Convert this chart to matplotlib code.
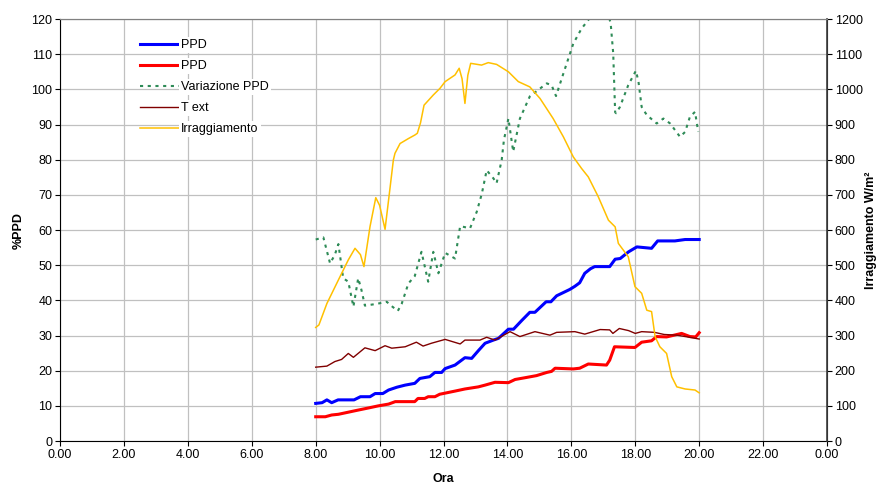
import matplotlib
matplotlib.use('Agg')
import matplotlib.pyplot as plt
from matplotlib.ticker import MultipleLocator, FuncFormatter

plt.rcParams['font.family'] = ['Liberation Sans', 'DejaVu Sans']
plt.rcParams['font.size'] = 9

# PPD (blu)
ppd_blu_t = [8.0, 8.2, 8.35, 8.5, 8.7, 9.2, 9.4, 9.7, 9.86, 10.1, 10.28, 10.54, 10.8, 11.1, 11.26,
             11.57, 11.73, 11.94, 12.05, 12.36, 12.67, 12.88, 13.1, 13.3, 13.56, 13.72, 14.03, 14.19,
             14.45, 14.7, 14.86, 15.21, 15.36, 15.54, 15.95, 16.11, 16.26, 16.42, 16.6, 16.73, 17.2,
             17.37, 17.53, 17.79, 18.05, 18.51, 18.7, 19.24, 19.56, 20.0]
ppd_blu = [10.7, 10.9, 11.7, 10.9, 11.7, 11.7, 12.6, 12.6, 13.5, 13.5, 14.5, 15.3, 15.9, 16.4, 17.8,
           18.3, 19.5, 19.5, 20.6, 21.6, 23.7, 23.5, 25.8, 27.8, 28.7, 29.2, 31.8, 31.8,
           34.3, 36.6, 36.6, 39.6, 39.6, 41.3, 43.1, 44.0, 45.0, 47.7, 49.0, 49.6, 49.6,
           51.7, 51.9, 53.8, 55.2, 54.8, 56.9, 56.9, 57.3, 57.3]

# PPD (rosso)
ppd_rosso_t = [8.0, 8.3, 8.5, 8.71, 9.02, 9.33, 9.65, 9.96, 10.28, 10.49, 11.1, 11.2, 11.41, 11.52,
               11.73, 11.88, 12.36, 12.67, 13.09, 13.3, 13.61, 14.03, 14.24, 14.55, 14.91, 15.23,
               15.38, 15.49, 16.06, 16.26, 16.53, 17.1, 17.2, 17.35, 17.99, 18.2, 18.51, 18.67,
               18.98, 19.45, 19.71, 19.89, 20.0]
ppd_rosso = [6.9, 6.9, 7.4, 7.6, 8.2, 8.8, 9.4, 10.0, 10.5, 11.2, 11.2, 12.1, 12.1, 12.6,
             12.6, 13.3, 14.2, 14.8, 15.4, 15.9, 16.7, 16.6, 17.5, 18.0, 18.6, 19.5,
             19.8, 20.7, 20.5, 20.7, 21.9, 21.6, 23.0, 26.8, 26.6, 28.1, 28.5, 29.7,
             29.6, 30.6, 29.7, 29.6, 30.8]

# Variazione PPD
var_ppd_t = [8.0, 8.24, 8.45, 8.6, 8.71, 8.78, 8.86, 9.02, 9.18, 9.33, 9.43, 9.54, 9.91, 10.22,
             10.4, 10.57, 10.69, 10.9, 11.1, 11.31, 11.52, 11.68, 11.84, 12.05, 12.36, 12.52,
             12.83, 13.04, 13.2, 13.35, 13.56, 13.66, 13.82, 13.89, 14.03, 14.18, 14.39, 14.7,
             15.23, 15.38, 15.52, 15.75, 16.06, 16.32, 16.53, 16.8, 17.1, 17.23, 17.31, 17.37,
             17.4, 17.52, 17.78, 18.02, 18.1, 18.2, 18.36, 18.67, 18.88, 19.09, 19.4, 19.56,
             19.71, 19.87, 19.97]
var_ppd = [57.3, 57.9, 50.5, 53.0, 56.0, 51.5, 46.3, 45.3, 38.2, 46.3, 43.0, 38.5, 39.0, 39.6,
           38.2, 37.0, 39.0, 44.8, 46.9, 53.8, 45.3, 53.8, 47.7, 53.5, 51.9, 61.1,
           60.5, 65.2, 70.4, 77.0, 74.7, 73.3, 79.9, 85.6, 91.7, 82.3, 91.7, 98.0,
           101.7, 101.2, 98.1, 104.5, 113.0, 117.3, 119.7, 124.0, 123.0, 118.8, 110.2, 93.5,
           93.2, 95.0, 101.2, 105.3, 102.2, 95.0, 92.7, 90.3, 91.7, 90.3, 86.5, 87.9,
           92.2, 93.6, 87.9]

# T ext
t_ext_t = [8.0, 8.35, 8.6, 8.81, 9.02, 9.18, 9.54, 9.86, 10.17, 10.38, 10.8, 11.15, 11.36, 11.62,
           12.05, 12.52, 12.67, 13.14, 13.35, 13.61, 14.08, 14.39, 14.86, 15.33, 15.54, 16.11,
           16.42, 16.9, 17.2, 17.3, 17.5, 17.79, 18.0, 18.2, 18.6, 18.9, 19.3, 19.7, 20.0]
t_ext = [21.0, 21.3, 22.6, 23.2, 24.9, 23.8, 26.5, 25.7, 27.1, 26.4, 26.8, 28.1, 27.0, 27.8,
         28.9, 27.6, 28.7, 28.7, 29.5, 28.7, 31.1, 29.7, 31.1, 30.1, 30.9, 31.1,
         30.4, 31.7, 31.6, 30.6, 32.0, 31.4, 30.6, 31.1, 30.9, 30.3, 30.1, 29.5, 29.0]

# Irraggiamento W/m2
irr_t = [8.0, 8.1, 8.35, 8.71, 9.02, 9.23, 9.4, 9.51, 9.7, 9.88, 10.0, 10.17, 10.3, 10.43, 10.48,
         10.64, 10.9, 11.1, 11.18, 11.28, 11.39, 11.68, 11.89, 12.05, 12.36, 12.49, 12.58, 12.67,
         12.76, 12.85, 13.19, 13.4, 13.66, 14.03, 14.34, 14.7, 15.02, 15.43, 15.75, 16.06, 16.32,
         16.53, 16.84, 17.16, 17.37, 17.47, 17.78, 17.99, 18.2, 18.36, 18.51, 18.62, 18.77,
         18.98, 19.14, 19.3, 19.56, 19.87, 20.0]
irr = [323, 330, 391, 458, 515, 548, 530, 496, 610, 692, 670, 602, 700, 799, 818,
       846, 860, 870, 875, 905, 955, 984, 1003, 1022, 1041, 1060, 1030, 960,
       1040, 1074, 1069, 1076, 1071, 1050, 1022, 1007, 974, 917, 865, 808, 775,
       751, 695, 628, 609, 562, 524, 439, 420, 372, 368, 297, 268,
       249, 183, 154, 148, 145, 137]

fig, ax = plt.subplots(figsize=(8.83, 4.84), dpi=100)
fig.subplots_adjust(left=0.068, right=0.9366, bottom=0.0888, top=0.9607)
ax2 = ax.twinx()

l1, = ax.plot(ppd_blu_t, ppd_blu, color='#0000ff', lw=2.2, label='PPD')
l2, = ax.plot(ppd_rosso_t, ppd_rosso, color='#ff0000', lw=2.2, label='PPD')
l3, = ax.plot(var_ppd_t, var_ppd, color='#2e8b57', lw=1.5, linestyle=(0, (1.5, 2.2)),
              label='Variazione PPD')
l4, = ax.plot(t_ext_t, t_ext, color='#800000', lw=1.0, label='T ext')
l5, = ax2.plot(irr_t, irr, color='#ffc000', lw=1.1, label='Irraggiamento')

ax.set_xlim(0, 24)
ax.set_ylim(0, 120)
ax2.set_ylim(0, 1200)
ax.xaxis.set_major_locator(MultipleLocator(2))
ax.xaxis.set_major_formatter(FuncFormatter(lambda v, p: '%.2f' % (v % 24)))
ax.yaxis.set_major_locator(MultipleLocator(10))
ax2.yaxis.set_major_locator(MultipleLocator(100))

ax.grid(True, color='#c0c0c0', lw=0.9)
ax.set_axisbelow(True)
for a in (ax, ax2):
    a.tick_params(direction='out', length=3.5, width=0.8, labelsize=9, pad=2)
ax.spines['left'].set_color('black')
ax.spines['bottom'].set_color('black')
ax2.spines['right'].set_color('#404040')
ax2.spines['right'].set_linewidth(1.2)
ax.spines['top'].set_color('#808080')
ax2.spines['top'].set_color('#808080')
ax2.spines['left'].set_visible(False)
ax2.spines['bottom'].set_visible(False)

ax.set_ylabel('%PPD', fontweight='bold', fontsize=9, labelpad=5)
ax2.set_ylabel('Irraggiamento W/m²', fontweight='bold', fontsize=9, labelpad=2)
ax.set_xlabel('Ora', fontweight='bold', fontsize=9, labelpad=9)

leg = ax2.legend(handles=[l1, l2, l3, l4, l5], loc='upper left',
                 bbox_to_anchor=(0.104, 0.952), frameon=False, fontsize=9,
                 handlelength=3.1, handletextpad=0.2, labelspacing=0.72,
                 borderpad=0, borderaxespad=0)
for txt in leg.get_texts():
    txt.set_bbox(dict(facecolor='white', edgecolor='none', pad=1.5))

plt.savefig('out.png', dpi=100)
